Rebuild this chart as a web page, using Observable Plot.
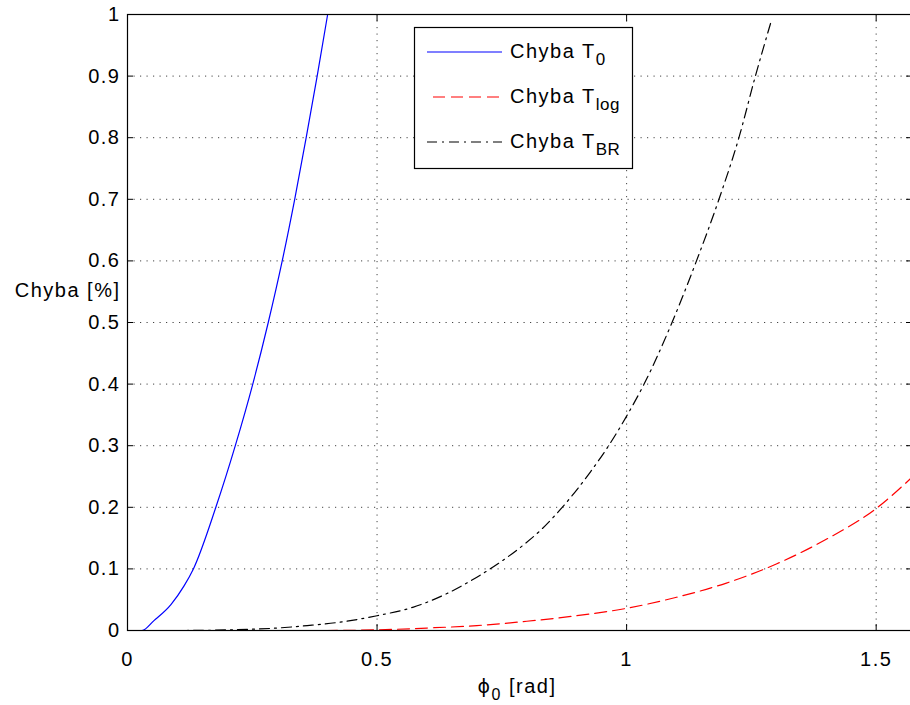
<!DOCTYPE html>
<html><head><meta charset="utf-8">
<script src="https://cdn.jsdelivr.net/npm/d3@7"></script>
<script src="https://cdn.jsdelivr.net/npm/@observablehq/plot@0.6"></script>
<style>
html,body{margin:0;padding:0;background:#fff;overflow:hidden;}
#chart{position:relative;width:910px;height:705px;overflow:hidden;}
#chart svg{max-width:none !important;}
</style></head><body><div id="chart"></div>
<script>
// ---- data ----
const blueX = [0, 0.029, 0.053, 0.087, 0.113, 0.132, 0.177, 0.216, 0.251, 0.282, 0.310, 0.335, 0.358, 0.380, 0.401];
const blueY = [0, 0, 0.016, 0.042, 0.072, 0.1, 0.2, 0.3, 0.4, 0.5, 0.6, 0.7, 0.8, 0.9, 1.0];

const redX = [0, 0.2, 0.4, 0.5, 0.6, 0.7, 0.8, 0.9, 1.0, 1.1, 1.2, 1.3, 1.4, 1.5, 1.5708];
const redY = [0, 0, 0, 0.001, 0.004, 0.008, 0.015, 0.024, 0.036, 0.054, 0.077, 0.108, 0.148, 0.198, 0.248];

const blackX = [0, 0.1, 0.2, 0.3, 0.36, 0.43, 0.5, 0.573, 0.64, 0.707, 0.747, 0.795, 0.828, 0.871, 0.928, 0.964, 1.0, 1.035, 1.091, 1.14, 1.185, 1.225, 1.258, 1.29];
const blackY = [0, 0, 0.001, 0.004, 0.008, 0.014, 0.024, 0.038, 0.06, 0.09, 0.111, 0.14, 0.163, 0.2, 0.258, 0.3, 0.348, 0.4, 0.5, 0.6, 0.7, 0.8, 0.9, 0.99];

const seriesBase = ["Chyba T", "Chyba T", "Chyba T"];
const seriesSub = ["0", "log", "BR"];
const xTicks = [0, 0.5, 1, 1.5];
const xTickLabels = ["0", "0.5", "1", "1.5"];
const yTicks = [0, 0.1, 0.2, 0.3, 0.4, 0.5, 0.6, 0.7, 0.8, 0.9, 1];
const yTickLabels = ["0", "0.1", "0.2", "0.3", "0.4", "0.5", "0.6", "0.7", "0.8", "0.9", "1"];
const yLabel = "Chyba [%]";
const xLabelMain = "\u03D5";
const xLabelSub = "0";
const xLabelRest = " [rad]";

// ---- styles ----
const colors = ["#0000ff", "#ff0000", "#000000"];
const dashes = [null, "12,6", "10,5,2,5"];
const font = "'Liberation Sans', Arial, Helvetica, sans-serif";

const series = [
  blueX.map((x, i) => ({x, y: blueY[i]})),
  redX.map((x, i) => ({x, y: redY[i]})),
  blackX.map((x, i) => ({x, y: blackY[i]}))
];

const gridStyle = {stroke: "#444", strokeOpacity: 1, strokeDasharray: "1.2,5.3", strokeWidth: 1};

const plot = Plot.plot({
  width: 912, height: 705,
  marginLeft: 127, marginRight: 1, marginTop: 14, marginBottom: 75,
  x: {domain: [0, Math.PI / 2]},
  y: {domain: [0, 1]},
  style: {fontFamily: font, fontSize: "20px", letterSpacing: "1.5px", color: "#000", background: "#fff", overflow: "visible"},
  marks: [
    Plot.gridX(xTicks.filter(v => v > 0), gridStyle),
    Plot.gridY(yTicks.filter(v => v > 0 && v < 1), gridStyle),
    ...series.map((d, i) => Plot.line(d, {x: "x", y: "y", stroke: colors[i], strokeWidth: 1.2, strokeDasharray: dashes[i], curve: "monotone-x"})),
    Plot.frame({stroke: "#000", strokeWidth: 1.2}),
    Plot.axisX(xTicks, {anchor: "bottom", tickSize: -6, tickFormat: () => "", label: null}),
    Plot.axisX(xTicks, {anchor: "top", tickSize: -6, tickFormat: () => "", label: null}),
    Plot.axisY(yTicks, {anchor: "left", tickSize: -6, tickFormat: () => "", label: null}),
    Plot.axisY(yTicks, {anchor: "right", tickSize: -6, tickFormat: () => "", label: null}),
    Plot.axisX(xTicks, {anchor: "bottom", tickSize: 0, tickPadding: 21, tickFormat: (d, i) => xTickLabels[i], label: null}),
    Plot.axisY(yTicks, {anchor: "left", tickSize: 0, tickPadding: 7, tickFormat: (d, i) => yTickLabels[i], label: null}),
    Plot.text([0.552], {y: d => d, frameAnchor: "left", text: () => yLabel, textAnchor: "end", dx: -7, fontSize: 20})
  ]
});
document.getElementById("chart").appendChild(plot);

// ---- x axis label with subscript ----
const svg = d3.select(plot);
const xs = plot.scale("x");
const xMid = (xs.range[0] + xs.range[1]) / 2;
const xl = svg.append("text")
  .attr("x", xMid - 2).attr("y", 693)
  .attr("text-anchor", "middle")
  .style("font-family", font).style("font-size", "20px").style("letter-spacing", "1.5px");
xl.append("tspan").text(xLabelMain).style("font-family", "'DejaVu Sans', sans-serif").style("font-size", "19px");
xl.append("tspan").text(xLabelSub).attr("dy", 7).style("font-size", "16px");
xl.append("tspan").text(xLabelRest).attr("dy", -7);

// ---- legend ----
const lg = svg.append("g");
const bx = 414.5, by = 27.5, bw = 218, bh = 141;
lg.append("rect").attr("x", bx).attr("y", by).attr("width", bw).attr("height", bh)
  .attr("fill", "#fff").attr("stroke", "#000").attr("stroke-width", 1.2);
seriesBase.forEach((name, i) => {
  const cy = 52 + i * 45;
  lg.append("line").attr("x1", i === 1 ? 433 : 427).attr("x2", 502).attr("y1", cy).attr("y2", cy)
    .attr("stroke", colors[i]).attr("stroke-width", 1.2)
    .attr("stroke-dasharray", dashes[i]);
  const t = lg.append("text").attr("x", 510).attr("y", cy + 6)
    .attr("text-anchor", "start")
    .style("font-family", font).style("font-size", "20px").style("letter-spacing", "1.5px");
  t.append("tspan").text(name);
  t.append("tspan").text(seriesSub[i]).attr("dy", 7).style("font-size", "17px").style("letter-spacing", "0.5px");
});
</script>
</body></html>
